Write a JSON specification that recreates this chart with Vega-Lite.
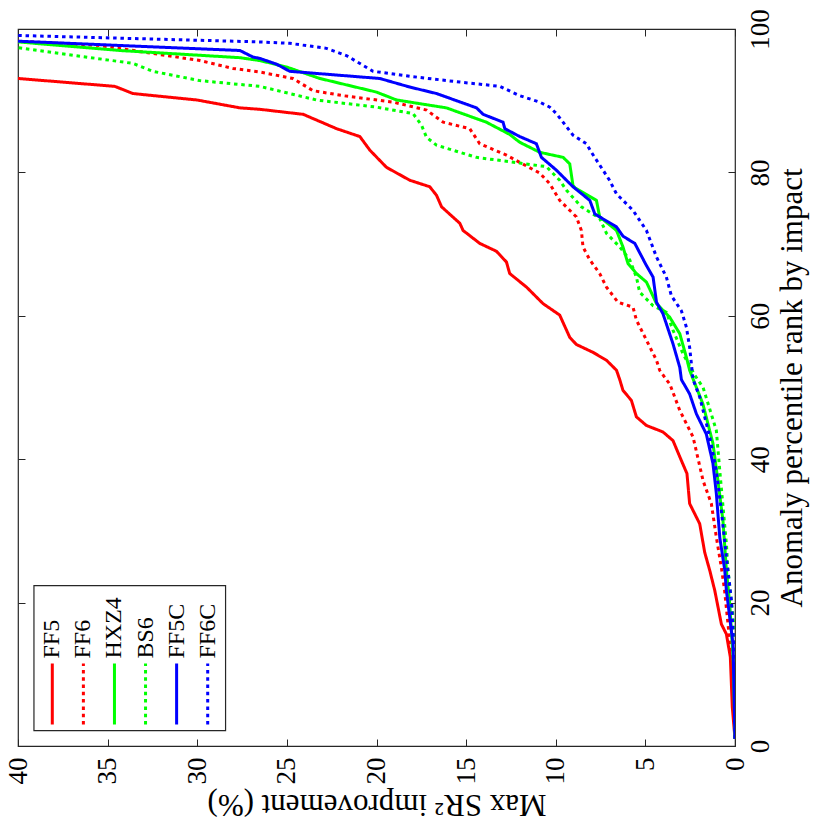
{
  "$schema": "https://vega.github.io/schema/vega-lite/v6.json",
  "autosize": {"type": "none"},
  "padding": {"left": 18, "top": 29, "right": 82, "bottom": 88},
  "width": 717,
  "height": 717,
  "background": "white",
  "config": {
    "font": "Liberation Serif",
    "view": {"stroke": "#262626", "strokeWidth": 1.2},
    "axis": {"labelColor": "black", "titleColor": "black", "tickColor": "#262626", "domain": false, "grid": false, "labelFont": "Liberation Serif", "titleFont": "Liberation Serif", "titleFontWeight": "normal"}
  },
  "datasets": {
    "curves": [
      {"series": "FF5", "v": 0, "r": 1}, {"series": "FF5", "v": 0.15, "r": 5.4}, {"series": "FF5", "v": 0.26, "r": 12.4}, {"series": "FF5", "v": 0.48, "r": 15.6}, {"series": "FF5", "v": 0.76, "r": 17.0}, {"series": "FF5", "v": 1.13, "r": 21.7}, {"series": "FF5", "v": 1.41, "r": 24.5}, {"series": "FF5", "v": 1.69, "r": 27.0}, {"series": "FF5", "v": 1.97, "r": 31.0}, {"series": "FF5", "v": 2.53, "r": 33.8}, {"series": "FF5", "v": 2.68, "r": 38.0}, {"series": "FF5", "v": 2.99, "r": 39.8}, {"series": "FF5", "v": 3.46, "r": 42.6}, {"series": "FF5", "v": 4.02, "r": 43.8}, {"series": "FF5", "v": 4.94, "r": 44.7}, {"series": "FF5", "v": 5.50, "r": 45.9}, {"series": "FF5", "v": 5.78, "r": 48.2}, {"series": "FF5", "v": 6.25, "r": 49.6}, {"series": "FF5", "v": 6.43, "r": 51.1}, {"series": "FF5", "v": 6.61, "r": 52.4}, {"series": "FF5", "v": 7.17, "r": 53.8}, {"series": "FF5", "v": 7.92, "r": 54.9}, {"series": "FF5", "v": 8.85, "r": 56.0}, {"series": "FF5", "v": 9.22, "r": 57.0}, {"series": "FF5", "v": 9.78, "r": 60.1}, {"series": "FF5", "v": 10.71, "r": 61.7}, {"series": "FF5", "v": 11.63, "r": 64.0}, {"series": "FF5", "v": 12.57, "r": 65.9}, {"series": "FF5", "v": 12.75, "r": 67.5}, {"series": "FF5", "v": 13.31, "r": 69.0}, {"series": "FF5", "v": 14.24, "r": 70.1}, {"series": "FF5", "v": 15.17, "r": 71.9}, {"series": "FF5", "v": 15.35, "r": 72.9}, {"series": "FF5", "v": 16.37, "r": 75.2}, {"series": "FF5", "v": 16.65, "r": 76.8}, {"series": "FF5", "v": 17.03, "r": 78.0}, {"series": "FF5", "v": 18.14, "r": 78.9}, {"series": "FF5", "v": 19.44, "r": 80.7}, {"series": "FF5", "v": 20.37, "r": 83.1}, {"series": "FF5", "v": 20.93, "r": 85.0}, {"series": "FF5", "v": 22.23, "r": 86.1}, {"series": "FF5", "v": 24.09, "r": 88.1}, {"series": "FF5", "v": 26.51, "r": 88.8}, {"series": "FF5", "v": 27.62, "r": 89.0}, {"series": "FF5", "v": 30.02, "r": 90.1}, {"series": "FF5", "v": 33.59, "r": 91.0}, {"series": "FF5", "v": 34.60, "r": 92.0}, {"series": "FF5", "v": 40, "r": 93.1},

      {"series": "FF6", "v": 0, "r": 1}, {"series": "FF6", "v": 0.1, "r": 10}, {"series": "FF6", "v": 0.39, "r": 17.0}, {"series": "FF6", "v": 0.58, "r": 21.7}, {"series": "FF6", "v": 0.76, "r": 24.9}, {"series": "FF6", "v": 1.04, "r": 29.1}, {"series": "FF6", "v": 1.32, "r": 33.8}, {"series": "FF6", "v": 1.78, "r": 37.0}, {"series": "FF6", "v": 2.34, "r": 43.1}, {"series": "FF6", "v": 3.08, "r": 46.8}, {"series": "FF6", "v": 3.64, "r": 50.5}, {"series": "FF6", "v": 3.83, "r": 51.1}, {"series": "FF6", "v": 4.20, "r": 52.4}, {"series": "FF6", "v": 4.38, "r": 53.8}, {"series": "FF6", "v": 4.94, "r": 56.6}, {"series": "FF6", "v": 5.50, "r": 59.4}, {"series": "FF6", "v": 5.69, "r": 61.2}, {"series": "FF6", "v": 6.53, "r": 61.9}, {"series": "FF6", "v": 7.17, "r": 64.0}, {"series": "FF6", "v": 7.55, "r": 65.9}, {"series": "FF6", "v": 8.10, "r": 67.8}, {"series": "FF6", "v": 8.48, "r": 69.6}, {"series": "FF6", "v": 8.57, "r": 71.9}, {"series": "FF6", "v": 8.85, "r": 73.8}, {"series": "FF6", "v": 9.78, "r": 76.1}, {"series": "FF6", "v": 10.33, "r": 78.4}, {"series": "FF6", "v": 10.89, "r": 79.9}, {"series": "FF6", "v": 12.01, "r": 81.4}, {"series": "FF6", "v": 12.75, "r": 82.4}, {"series": "FF6", "v": 14.24, "r": 84.0}, {"series": "FF6", "v": 14.80, "r": 86.1}, {"series": "FF6", "v": 16.28, "r": 87.0}, {"series": "FF6", "v": 17.21, "r": 88.7}, {"series": "FF6", "v": 19.07, "r": 89.8}, {"series": "FF6", "v": 21.86, "r": 90.7}, {"series": "FF6", "v": 23.54, "r": 91.4}, {"series": "FF6", "v": 24.67, "r": 93.1}, {"series": "FF6", "v": 26.51, "r": 94.0}, {"series": "FF6", "v": 28.01, "r": 94.5}, {"series": "FF6", "v": 29.85, "r": 95.6}, {"series": "FF6", "v": 35.43, "r": 97.7}, {"series": "FF6", "v": 40, "r": 98.3},

      {"series": "HXZ4", "v": 0, "r": 1}, {"series": "HXZ4", "v": 0.1, "r": 12}, {"series": "HXZ4", "v": 0.3, "r": 20}, {"series": "HXZ4", "v": 0.48, "r": 24.5}, {"series": "HXZ4", "v": 0.67, "r": 31.4}, {"series": "HXZ4", "v": 0.95, "r": 37.0}, {"series": "HXZ4", "v": 1.23, "r": 42.2}, {"series": "HXZ4", "v": 1.79, "r": 47.7}, {"series": "HXZ4", "v": 2.53, "r": 52.4}, {"series": "HXZ4", "v": 2.71, "r": 54.2}, {"series": "HXZ4", "v": 3.08, "r": 57.5}, {"series": "HXZ4", "v": 3.64, "r": 59.8}, {"series": "HXZ4", "v": 4.38, "r": 61.7}, {"series": "HXZ4", "v": 4.94, "r": 64.7}, {"series": "HXZ4", "v": 5.50, "r": 65.9}, {"series": "HXZ4", "v": 5.97, "r": 67.3}, {"series": "HXZ4", "v": 6.25, "r": 69.6}, {"series": "HXZ4", "v": 6.61, "r": 71.9}, {"series": "HXZ4", "v": 7.55, "r": 73.8}, {"series": "HXZ4", "v": 7.73, "r": 76.1}, {"series": "HXZ4", "v": 8.9, "r": 77.8}, {"series": "HXZ4", "v": 9.04, "r": 78.2}, {"series": "HXZ4", "v": 9.22, "r": 81.2}, {"series": "HXZ4", "v": 9.59, "r": 82.1}, {"series": "HXZ4", "v": 10.89, "r": 82.8}, {"series": "HXZ4", "v": 12.01, "r": 84.2}, {"series": "HXZ4", "v": 12.57, "r": 85.3}, {"series": "HXZ4", "v": 13.87, "r": 87.0}, {"series": "HXZ4", "v": 16.10, "r": 89.0}, {"series": "HXZ4", "v": 18.88, "r": 90.1}, {"series": "HXZ4", "v": 20.00, "r": 91.2}, {"series": "HXZ4", "v": 23.16, "r": 93.1}, {"series": "HXZ4", "v": 25.02, "r": 94.7}, {"series": "HXZ4", "v": 26.51, "r": 95.6}, {"series": "HXZ4", "v": 27.62, "r": 96.0}, {"series": "HXZ4", "v": 34.31, "r": 97.0}, {"series": "HXZ4", "v": 40, "r": 98.2},

      {"series": "BS6", "v": 0, "r": 1}, {"series": "BS6", "v": 0.03, "r": 16}, {"series": "BS6", "v": 0.15, "r": 19}, {"series": "BS6", "v": 0.39, "r": 24.5}, {"series": "BS6", "v": 0.48, "r": 28.2}, {"series": "BS6", "v": 0.85, "r": 38.4}, {"series": "BS6", "v": 1.04, "r": 44.0}, {"series": "BS6", "v": 1.78, "r": 50.0}, {"series": "BS6", "v": 2.24, "r": 51.7}, {"series": "BS6", "v": 2.90, "r": 54.7}, {"series": "BS6", "v": 3.46, "r": 58.0}, {"series": "BS6", "v": 3.83, "r": 60.5}, {"series": "BS6", "v": 4.57, "r": 61.4}, {"series": "BS6", "v": 5.32, "r": 63.3}, {"series": "BS6", "v": 5.50, "r": 65.4}, {"series": "BS6", "v": 5.87, "r": 67.8}, {"series": "BS6", "v": 6.43, "r": 69.6}, {"series": "BS6", "v": 7.17, "r": 71.5}, {"series": "BS6", "v": 7.55, "r": 73.6}, {"series": "BS6", "v": 8.57, "r": 75.2}, {"series": "BS6", "v": 9.40, "r": 77.5}, {"series": "BS6", "v": 9.78, "r": 78.9}, {"series": "BS6", "v": 10.52, "r": 80.8}, {"series": "BS6", "v": 12.01, "r": 81.3}, {"series": "BS6", "v": 14.43, "r": 82.1}, {"series": "BS6", "v": 16.65, "r": 83.8}, {"series": "BS6", "v": 17.21, "r": 84.9}, {"series": "BS6", "v": 17.49, "r": 86.6}, {"series": "BS6", "v": 17.96, "r": 88.2}, {"series": "BS6", "v": 20.00, "r": 89.1}, {"series": "BS6", "v": 23.35, "r": 90.1}, {"series": "BS6", "v": 26.51, "r": 92.0}, {"series": "BS6", "v": 29.86, "r": 92.8}, {"series": "BS6", "v": 32.48, "r": 94.1}, {"series": "BS6", "v": 33.59, "r": 95.2}, {"series": "BS6", "v": 40, "r": 97.4},

      {"series": "FF5C", "v": 0, "r": 1}, {"series": "FF5C", "v": 0.11, "r": 14.2}, {"series": "FF5C", "v": 0.48, "r": 21.7}, {"series": "FF5C", "v": 0.57, "r": 24.5}, {"series": "FF5C", "v": 0.85, "r": 29.1}, {"series": "FF5C", "v": 1.04, "r": 35.2}, {"series": "FF5C", "v": 1.23, "r": 39.4}, {"series": "FF5C", "v": 1.60, "r": 43.5}, {"series": "FF5C", "v": 2.15, "r": 46.3}, {"series": "FF5C", "v": 2.53, "r": 49.1}, {"series": "FF5C", "v": 2.99, "r": 51.1}, {"series": "FF5C", "v": 3.08, "r": 52.8}, {"series": "FF5C", "v": 3.46, "r": 56.1}, {"series": "FF5C", "v": 4.02, "r": 60.3}, {"series": "FF5C", "v": 4.38, "r": 61.9}, {"series": "FF5C", "v": 4.57, "r": 65.4}, {"series": "FF5C", "v": 4.94, "r": 67.0}, {"series": "FF5C", "v": 5.59, "r": 70.1}, {"series": "FF5C", "v": 6.25, "r": 71.1}, {"series": "FF5C", "v": 6.61, "r": 72.4}, {"series": "FF5C", "v": 7.82, "r": 74.2}, {"series": "FF5C", "v": 8.10, "r": 76.1}, {"series": "FF5C", "v": 9.04, "r": 78.0}, {"series": "FF5C", "v": 9.96, "r": 80.3}, {"series": "FF5C", "v": 10.80, "r": 82.1}, {"series": "FF5C", "v": 11.08, "r": 84.0}, {"series": "FF5C", "v": 12.01, "r": 85.0}, {"series": "FF5C", "v": 12.84, "r": 86.1}, {"series": "FF5C", "v": 12.94, "r": 87.0}, {"series": "FF5C", "v": 14.05, "r": 88.1}, {"series": "FF5C", "v": 14.42, "r": 89.0}, {"series": "FF5C", "v": 16.65, "r": 91.0}, {"series": "FF5C", "v": 18.14, "r": 91.9}, {"series": "FF5C", "v": 19.82, "r": 93.1}, {"series": "FF5C", "v": 24.84, "r": 94.1}, {"series": "FF5C", "v": 25.58, "r": 95.1}, {"series": "FF5C", "v": 26.51, "r": 95.9}, {"series": "FF5C", "v": 26.90, "r": 96.1}, {"series": "FF5C", "v": 27.62, "r": 97.0}, {"series": "FF5C", "v": 40, "r": 98.3},

      {"series": "FF6C", "v": 0, "r": 1}, {"series": "FF6C", "v": 0.02, "r": 11.9}, {"series": "FF6C", "v": 0.20, "r": 20.3}, {"series": "FF6C", "v": 0.48, "r": 26.3}, {"series": "FF6C", "v": 0.76, "r": 32.8}, {"series": "FF6C", "v": 1.04, "r": 38.4}, {"series": "FF6C", "v": 1.41, "r": 43.1}, {"series": "FF6C", "v": 1.97, "r": 48.7}, {"series": "FF6C", "v": 2.34, "r": 51.1}, {"series": "FF6C", "v": 2.53, "r": 55.6}, {"series": "FF6C", "v": 2.71, "r": 58.4}, {"series": "FF6C", "v": 2.99, "r": 60.7}, {"series": "FF6C", "v": 3.55, "r": 62.8}, {"series": "FF6C", "v": 3.83, "r": 65.4}, {"series": "FF6C", "v": 4.38, "r": 68.2}, {"series": "FF6C", "v": 4.94, "r": 71.9}, {"series": "FF6C", "v": 5.69, "r": 74.7}, {"series": "FF6C", "v": 6.61, "r": 77.0}, {"series": "FF6C", "v": 7.0, "r": 78.9}, {"series": "FF6C", "v": 7.36, "r": 80.3}, {"series": "FF6C", "v": 8.01, "r": 82.8}, {"series": "FF6C", "v": 8.29, "r": 84.0}, {"series": "FF6C", "v": 9.04, "r": 85.2}, {"series": "FF6C", "v": 9.96, "r": 88.2}, {"series": "FF6C", "v": 10.33, "r": 89.1}, {"series": "FF6C", "v": 10.89, "r": 89.8}, {"series": "FF6C", "v": 12.01, "r": 90.7}, {"series": "FF6C", "v": 13.12, "r": 92.0}, {"series": "FF6C", "v": 15.35, "r": 92.6}, {"series": "FF6C", "v": 18.14, "r": 93.4}, {"series": "FF6C", "v": 20.19, "r": 94.1}, {"series": "FF6C", "v": 21.68, "r": 96.3}, {"series": "FF6C", "v": 22.79, "r": 97.3}, {"series": "FF6C", "v": 24.84, "r": 98.0}, {"series": "FF6C", "v": 26.51, "r": 98.2}, {"series": "FF6C", "v": 40, "r": 99.1}
    ],
    "legend": [
      {"series": "FF5"}, {"series": "FF6"}, {"series": "HXZ4"}, {"series": "BS6"}, {"series": "FF5C"}, {"series": "FF6C"}
    ]
  },
  "resolve": {"scale": {"x": "independent"}, "axis": {"y": "independent"}},
  "layer": [
    {
      "data": {"name": "curves"},
      "mark": {"type": "line", "strokeWidth": 3, "clip": true, "strokeCap": "butt"},
      "encoding": {
        "x": {
          "field": "v", "type": "quantitative",
          "scale": {"domain": [0, 40], "reverse": true, "nice": false, "zero": false},
          "axis": {
            "orient": "bottom", "values": [0, 5, 10, 15, 20, 25, 30, 35, 40],
            "labelAngle": 270, "labelAlign": "right", "labelBaseline": "middle",
            "labelPadding": 18, "tickSize": -7, "labelFontSize": 27,
            "title": "Max SR² improvement (%)", "titleFontSize": 31,
            "titleAngle": 180, "titleBaseline": "bottom", "titlePadding": 3
          }
        },
        "y": {
          "field": "r", "type": "quantitative",
          "scale": {"domain": [0, 100], "nice": false, "zero": false},
          "axis": {
            "orient": "right", "values": [0, 20, 40, 60, 80, 100],
            "labelAngle": 270, "labelAlign": "center", "labelBaseline": "top",
            "labelPadding": 19, "tickSize": -7, "labelFontSize": 27,
            "title": "Anomaly percentile rank by impact", "titleFontSize": 31,
            "titleAngle": 270, "titleBaseline": "top", "titlePadding": 4
          }
        },
        "color": {
          "field": "series", "type": "nominal",
          "scale": {"domain": ["FF5", "FF6", "HXZ4", "BS6", "FF5C", "FF6C"], "range": ["#ff0000", "#ff0000", "#00ff00", "#00ff00", "#0000ff", "#0000ff"]},
          "legend": null
        },
        "strokeDash": {
          "field": "series", "type": "nominal",
          "scale": {"domain": ["FF5", "FF6", "HXZ4", "BS6", "FF5C", "FF6C"], "range": [[1, 0], [3.5, 3.8], [1, 0], [3.5, 3.8], [1, 0], [3.5, 3.8]]},
          "legend": null
        },
        "order": {"field": "r", "type": "quantitative"}
      }
    },
    {
      "data": {"values": [{}]},
      "mark": {"type": "rect", "fill": "white", "stroke": "#262626", "strokeWidth": 1.2},
      "encoding": {
        "x": {
          "datum": 39.11, "type": "quantitative",
          "scale": {"domain": [0, 40], "reverse": true, "nice": false, "zero": false},
          "axis": {"orient": "top", "values": [0, 5, 10, 15, 20, 25, 30, 35, 40], "labels": false, "tickSize": -7, "title": null}
        },
        "x2": {"datum": 28.42},
        "y": {
          "datum": 2.15, "type": "quantitative",
          "axis": {"orient": "left", "values": [0, 20, 40, 60, 80, 100], "labels": false, "tickSize": -7, "title": null}
        },
        "y2": {"datum": 22.38}
      }
    },
    {
      "data": {"name": "legend"},
      "mark": {"type": "rule", "strokeWidth": 3, "strokeCap": "butt"},
      "encoding": {
        "x": {
          "field": "series", "type": "nominal",
          "scale": {"type": "point", "domain": ["FF5", "FF6", "HXZ4", "BS6", "FF5C", "FF6C"], "range": [34.3, 189.7], "padding": 0},
          "axis": null
        },
        "y": {"datum": 3.0, "type": "quantitative", "axis": null},
        "y2": {"datum": 11.5},
        "color": {"field": "series", "type": "nominal", "legend": null},
        "strokeDash": {"field": "series", "type": "nominal", "legend": null}
      }
    },
    {
      "data": {"name": "legend"},
      "mark": {"type": "text", "angle": 270, "align": "left", "baseline": "middle", "fontSize": 24, "font": "Liberation Serif", "color": "black"},
      "encoding": {
        "x": {
          "field": "series", "type": "nominal",
          "scale": {"type": "point", "domain": ["FF5", "FF6", "HXZ4", "BS6", "FF5C", "FF6C"], "range": [34.3, 189.7], "padding": 0},
          "axis": null
        },
        "y": {"datum": 12.2, "type": "quantitative", "axis": null},
        "text": {"field": "series"}
      }
    }
  ]
}
